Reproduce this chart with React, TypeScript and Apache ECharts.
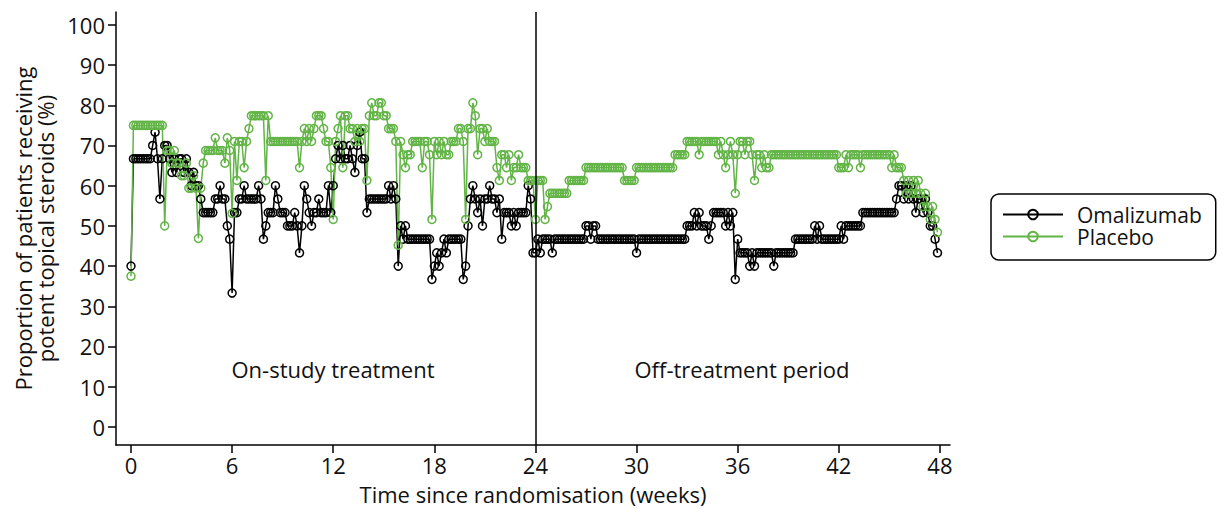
import React, { useEffect, useRef } from "react";
import * as echarts from "echarts";

// Weeks since randomisation shown on the x axis, percentages on the y axis
const weekTicks = [0, 6, 12, 18, 24, 30, 36, 42, 48];
const percentTicks = [0, 10, 20, 30, 40, 50, 60, 70, 80, 90, 100];

// Daily proportion (%) receiving potent topical steroids, one row per week (days 0-335)
const omalizumab = [
  40, 66.7, 66.7, 66.7, 66.7, 66.7, 66.7,
  66.7, 66.7, 70, 73.3, 66.7, 56.7, 66.7,
  70, 70, 66.7, 63.3, 66.7, 63.3, 66.7,
  66.7, 63.3, 66.7, 63.3, 60, 63.3, 60,
  60, 56.7, 53.3, 53.3, 53.3, 53.3, 53.3,
  56.7, 56.7, 60, 56.7, 56.7, 50, 46.7,
  33.3, 53.3, 53.3, 56.7, 56.7, 60, 56.7,
  56.7, 56.7, 56.7, 56.7, 60, 56.7, 46.7,
  50, 53.3, 53.3, 53.3, 60, 56.7, 53.3,
  53.3, 53.3, 50, 50, 50, 53.3, 50,
  43.3, 50, 60, 56.7, 53.3, 50, 53.3,
  53.3, 56.7, 53.3, 53.3, 53.3, 60, 53.3,
  60, 66.7, 70, 66.7, 70, 66.7, 66.7,
  70, 66.7, 63.3, 70, 73.3, 66.7, 66.7,
  53.3, 56.7, 56.7, 56.7, 56.7, 56.7, 56.7,
  56.7, 56.7, 60, 56.7, 60, 56.7, 40,
  50, 46.7, 50, 46.7, 46.7, 46.7, 46.7,
  46.7, 46.7, 46.7, 46.7, 46.7, 46.7, 36.7,
  40, 43.3, 40, 43.3, 46.7, 43.3, 46.7,
  46.7, 46.7, 46.7, 46.7, 46.7, 36.7, 40,
  50, 56.7, 60, 56.7, 53.3, 56.7, 50,
  56.7, 56.7, 60, 56.7, 56.7, 53.3, 56.7,
  46.7, 53.3, 53.3, 53.3, 50, 53.3, 50,
  53.3, 53.3, 53.3, 53.3, 60, 56.7, 43.3,
  43.3, 46.7, 43.3, 46.7, 46.7, 46.7, 46.7,
  43.3, 46.7, 46.7, 46.7, 46.7, 46.7, 46.7,
  46.7, 46.7, 46.7, 46.7, 46.7, 46.7, 46.7,
  50, 50, 46.7, 50, 50, 46.7, 46.7,
  46.7, 46.7, 46.7, 46.7, 46.7, 46.7, 46.7,
  46.7, 46.7, 46.7, 46.7, 46.7, 46.7, 46.7,
  43.3, 46.7, 46.7, 46.7, 46.7, 46.7, 46.7,
  46.7, 46.7, 46.7, 46.7, 46.7, 46.7, 46.7,
  46.7, 46.7, 46.7, 46.7, 46.7, 46.7, 46.7,
  50, 50, 50, 53.3, 50, 53.3, 50,
  50, 50, 46.7, 50, 53.3, 53.3, 53.3,
  53.3, 53.3, 50, 53.3, 50, 53.3, 36.7,
  46.7, 43.3, 43.3, 43.3, 43.3, 40, 43.3,
  40, 43.3, 43.3, 43.3, 43.3, 43.3, 43.3,
  43.3, 40, 43.3, 43.3, 43.3, 43.3, 43.3,
  43.3, 43.3, 43.3, 46.7, 46.7, 46.7, 46.7,
  46.7, 46.7, 46.7, 46.7, 50, 46.7, 50,
  46.7, 46.7, 46.7, 46.7, 46.7, 46.7, 46.7,
  46.7, 50, 46.7, 50, 50, 50, 50,
  50, 50, 50, 53.3, 53.3, 53.3, 53.3,
  53.3, 53.3, 53.3, 53.3, 53.3, 53.3, 53.3,
  53.3, 53.3, 53.3, 56.7, 60, 60, 56.7,
  60, 56.7, 60, 56.7, 53.3, 56.7, 56.7,
  53.3, 56.7, 53.3, 50, 50, 46.7, 43.3,
];

const placebo = [
  37.5, 75, 75, 75, 75, 75, 75,
  75, 75, 75, 75, 75, 75, 75,
  50, 68.75, 68.75, 65.6, 68.75, 65.6, 65.6,
  62.5, 62.5, 65.6, 59.4, 59.4, 62.5, 59.4,
  46.9, 59.4, 65.6, 68.75, 68.75, 68.75, 68.75,
  71.9, 68.75, 68.75, 68.75, 65.6, 71.9, 68.75,
  53.1, 71.0, 61.3, 71.0, 71.0, 64.5, 71.0,
  74.2, 77.4, 77.4, 77.4, 77.4, 77.4, 77.4,
  61.3, 77.4, 71.0, 71.0, 71.0, 71.0, 71.0,
  71.0, 71.0, 71.0, 71.0, 71.0, 71.0, 71.0,
  64.5, 71.0, 74.2, 71.0, 74.2, 71.0, 74.2,
  77.4, 77.4, 77.4, 74.2, 71.0, 71.0, 64.5,
  51.6, 71.0, 74.2, 77.4, 64.5, 77.4, 77.4,
  74.2, 74.2, 71.0, 74.2, 71.0, 74.2, 74.2,
  61.3, 77.4, 80.6, 77.4, 77.4, 80.6, 80.6,
  77.4, 77.4, 74.2, 74.2, 74.2, 71.0, 45.2,
  71.0, 67.7, 64.5, 67.7, 67.7, 71.0, 71.0,
  71.0, 71.0, 64.5, 71.0, 71.0, 67.7, 51.6,
  71.0, 67.7, 71.0, 67.7, 71.0, 67.7, 67.7,
  71.0, 71.0, 71.0, 74.2, 74.2, 71.0, 51.6,
  74.2, 74.2, 80.6, 77.4, 67.7, 74.2, 74.2,
  71.0, 74.2, 71.0, 71.0, 71.0, 64.5, 61.3,
  67.7, 67.7, 64.5, 67.7, 61.3, 64.5, 64.5,
  67.7, 64.5, 64.5, 64.5, 61.3, 61.3, 61.3,
  51.6, 61.3, 61.3, 61.3, 51.6, 54.8, 58.1,
  58.1, 58.1, 58.1, 58.1, 58.1, 58.1, 58.1,
  61.3, 61.3, 61.3, 61.3, 61.3, 61.3, 61.3,
  64.5, 64.5, 64.5, 64.5, 64.5, 64.5, 64.5,
  64.5, 64.5, 64.5, 64.5, 64.5, 64.5, 64.5,
  64.5, 64.5, 61.3, 61.3, 61.3, 61.3, 61.3,
  64.5, 64.5, 64.5, 64.5, 64.5, 64.5, 64.5,
  64.5, 64.5, 64.5, 64.5, 64.5, 64.5, 64.5,
  64.5, 64.5, 67.7, 67.7, 67.7, 67.7, 67.7,
  71.0, 71.0, 71.0, 71.0, 71.0, 67.7, 71.0,
  71.0, 71.0, 71.0, 71.0, 71.0, 71.0, 67.7,
  71.0, 67.7, 64.5, 67.7, 71.0, 67.7, 58.1,
  67.7, 71.0, 71.0, 67.7, 71.0, 71.0, 67.7,
  61.3, 67.7, 67.7, 64.5, 67.7, 64.5, 64.5,
  67.7, 67.7, 67.7, 67.7, 67.7, 67.7, 67.7,
  67.7, 67.7, 67.7, 67.7, 67.7, 67.7, 67.7,
  67.7, 67.7, 67.7, 67.7, 67.7, 67.7, 67.7,
  67.7, 67.7, 67.7, 67.7, 67.7, 67.7, 67.7,
  64.5, 64.5, 64.5, 67.7, 64.5, 67.7, 67.7,
  67.7, 67.7, 64.5, 67.7, 67.7, 67.7, 67.7,
  67.7, 67.7, 67.7, 67.7, 67.7, 67.7, 67.7,
  67.7, 64.5, 67.7, 64.5, 64.5, 64.5, 61.3,
  58.1, 61.3, 58.1, 61.3, 58.1, 61.3, 58.1,
  54.8, 58.1, 54.8, 51.6, 54.8, 51.6, 48.4,
];

const seriesNames = ["Omalizumab", "Placebo"];
const periodLabels = ["On-study treatment", "Off-treatment period"];
const treatmentEndWeek = 24;

const FONT = "'Open Sans', 'Noto Sans', sans-serif";
const INK = "#111111";
const BLACK = "#000000";
const GREEN = "#62b446";
const FS = 22;

const byDay = (values: number[]) => values.map((v, day) => [day / 7, v]);

export default function App() {
  const ref = useRef<HTMLDivElement>(null);

  useEffect(() => {
    if (!ref.current) return;
    const chart = echarts.init(ref.current, undefined, { renderer: "svg" });

    const lineSeries = (name: string, color: string, values: number[]) => ({
      name,
      type: "line",
      data: byDay(values),
      color,
      symbol: "circle",
      symbolSize: 8,
      showSymbol: true,
      lineStyle: { color, width: 1.5 },
      itemStyle: { color: "rgba(255,255,255,0)", borderColor: color, borderWidth: 1.5 },
      emphasis: { disabled: true },
    });

    chart.setOption({
      animation: false,
      backgroundColor: "#ffffff",
      textStyle: { fontFamily: FONT },
      grid: {
        left: 116,
        right: 274,
        top: 12,
        bottom: 64,
        containLabel: false,
        outerBoundsMode: "none",
      },
      legend: {
        orient: "vertical",
        left: 991,
        top: 194,
        data: seriesNames,
        itemWidth: 60,
        itemHeight: 12,
        itemGap: 1,
        padding: [10, 14, 13, 11],
        borderColor: BLACK,
        borderWidth: 1.5,
        borderRadius: 8,
        textStyle: { fontFamily: FONT, fontSize: 21, color: INK, lineHeight: 20, padding: [0, 0, 0, 9] },
      },
      xAxis: {
        type: "value",
        min: -0.89,
        max: 48.6,
        name: "Time since randomisation (weeks)",
        nameLocation: "middle",
        nameGap: 38,
        nameTextStyle: { fontFamily: FONT, fontSize: FS, color: INK },
        axisLine: { show: true, onZero: false, lineStyle: { color: BLACK, width: 1.5 } },
        axisTick: { show: true, length: 8, lineStyle: { color: BLACK, width: 1.5 }, customValues: weekTicks },
        axisLabel: { fontFamily: FONT, fontSize: FS, color: INK, margin: 9, customValues: weekTicks },
        splitLine: { show: false },
      },
      yAxis: {
        type: "value",
        min: -4.5,
        max: 103.2,
        name: "Proportion of patients receiving\npotent topical steroids (%)",
        nameLocation: "middle",
        nameRotate: 90,
        nameGap: 56,
        nameTextStyle: { fontFamily: FONT, fontSize: FS, color: INK, lineHeight: 22 },
        axisLine: { show: true, onZero: false, lineStyle: { color: BLACK, width: 1.5 } },
        axisTick: { show: true, length: 8, lineStyle: { color: BLACK, width: 1.5 }, customValues: percentTicks },
        axisLabel: { fontFamily: FONT, fontSize: FS, color: INK, margin: 11, customValues: percentTicks },
        splitLine: { show: false },
      },
      graphic: [
        {
          type: "text",
          x: 333,
          y: 369,
          style: { text: periodLabels[0], font: `${FS}px ${FONT}`, fill: INK, align: "center", verticalAlign: "middle" },
        },
        {
          type: "text",
          x: 742,
          y: 369,
          style: { text: periodLabels[1], font: `${FS}px ${FONT}`, fill: INK, align: "center", verticalAlign: "middle" },
        },
      ],
      series: [
        {
          ...lineSeries(seriesNames[0], BLACK, omalizumab),
          markLine: {
            silent: true,
            symbol: "none",
            label: { show: false },
            lineStyle: { color: BLACK, width: 1.5, type: "solid" },
            data: [{ xAxis: treatmentEndWeek }],
          },
        },
        lineSeries(seriesNames[1], GREEN, placebo),
      ],
    });

    return () => chart.dispose();
  }, []);

  return (
    <div
      ref={ref}
      style={{ position: "absolute", left: 0, top: 0, width: 1224, height: 509, background: "#fff" }}
    />
  );
}
